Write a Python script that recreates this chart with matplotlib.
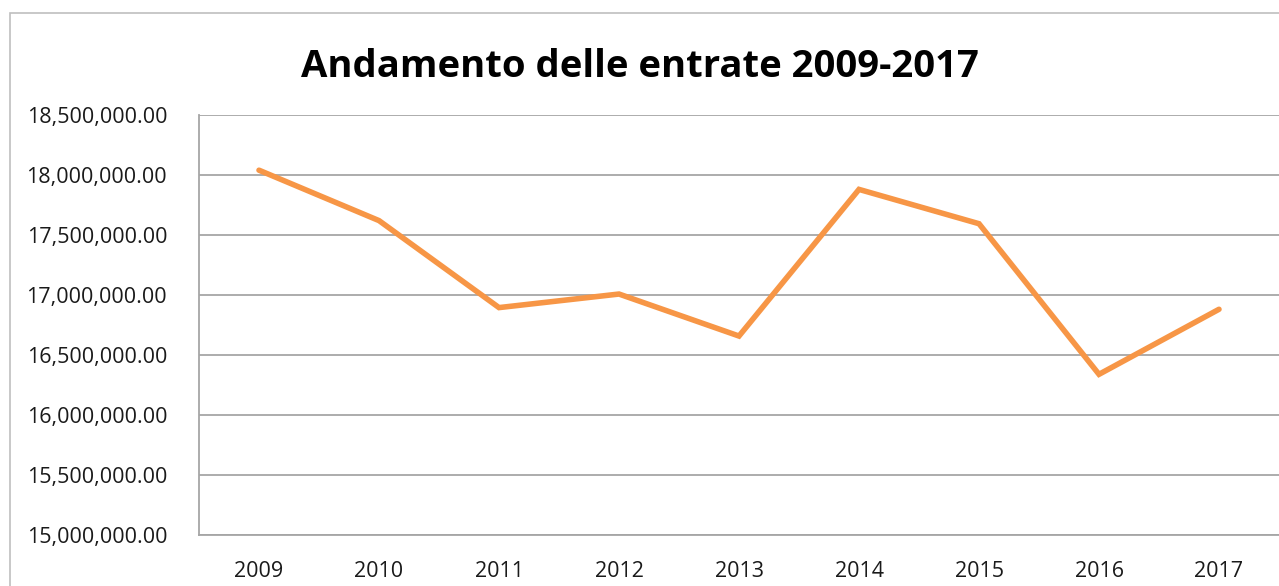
import matplotlib.pyplot as plt
from matplotlib.patches import Rectangle
from matplotlib.ticker import FuncFormatter

years = ["2009", "2010", "2011", "2012", "2013", "2014", "2015", "2016", "2017"]
entrate = [18040000, 17620000, 16895000, 17008000, 16658000,
           17880000, 17594000, 16339000, 16881000]
y_ticks = [15000000, 15500000, 16000000, 16500000,
           17000000, 17500000, 18000000, 18500000]

plt.rcParams['font.family'] = ['Open Sans', 'DejaVu Sans']

fig = plt.figure(figsize=(12.79, 5.86), dpi=100)

# frame around the whole chart area (runs off right and bottom)
fig.patches.append(Rectangle((10 / 1279, -0.05), 1.2, 1 - 13 / 586 + 0.05,
                             transform=fig.transFigure, fill=False,
                             edgecolor="#BFBFBF", linewidth=1.2))

ax = fig.add_axes([199 / 1279, 1 - 535 / 586, 1080 / 1279, 420 / 586])

x = range(len(years))
ax.plot(x, entrate, color="#F79646", linewidth=4.0, solid_joinstyle="miter",
        solid_capstyle="round", zorder=3)

ax.set_xlim(-0.5, len(years) - 0.5)
ax.set_ylim(y_ticks[0], y_ticks[-1])
ax.set_yticks(y_ticks)
ax.set_xticks(list(x))
ax.set_xticklabels(years)
ax.yaxis.set_major_formatter(FuncFormatter(lambda v, p: f"{v:,.2f}"))

ax.grid(axis="y", color="#A6A6A6", linewidth=1.3)
ax.set_axisbelow(True)
for s in ["top", "right"]:
    ax.spines[s].set_visible(False)
for s in ["left", "bottom"]:
    ax.spines[s].set_color("#A6A6A6")
    ax.spines[s].set_linewidth(1.3)
ax.tick_params(axis="both", length=0, labelsize=15.5, colors="#1a1a1a")
ax.tick_params(axis="y", pad=23)
ax.tick_params(axis="x", pad=19)

fig.text(0.5, 1 - 67 / 586, "Andamento delle entrate 2009-2017",
         ha="center", va="center", fontsize=27.5, fontweight="bold", color="black")

fig.savefig("out.png", dpi=100)
